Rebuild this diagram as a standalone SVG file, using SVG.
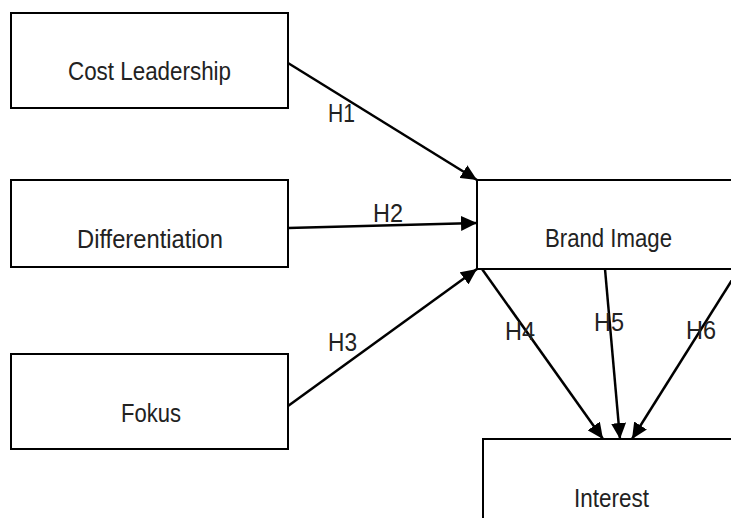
<svg xmlns="http://www.w3.org/2000/svg" width="731" height="518" viewBox="0 0 731 518">
<defs>
<marker id="ah" markerUnits="userSpaceOnUse" markerWidth="17" markerHeight="15" viewBox="0 0 17 15" refX="16" refY="7.5" orient="auto">
<path d="M0,0 L16,7.5 L0,15 Z" fill="#000"/>
</marker>
<style>
.box{fill:#fff;stroke:#000;stroke-width:2}
.lbl{font-family:"Liberation Sans",Arial,sans-serif;font-size:25px;fill:#222;text-anchor:middle}
.edge{stroke:#000;stroke-width:2.5;fill:none;marker-end:url(#ah)}
</style>
</defs>
<rect width="731" height="518" fill="#fff"/>
<g id="cost-leadership">
<rect class="box" x="11" y="13" width="277" height="95"/>
<text class="lbl" x="149.5" y="80" textLength="163" lengthAdjust="spacingAndGlyphs">Cost Leadership</text>
</g>
<g id="differentiation">
<rect class="box" x="11" y="180" width="277" height="87"/>
<text class="lbl" x="150" y="248" textLength="146" lengthAdjust="spacingAndGlyphs">Differentiation</text>
</g>
<g id="fokus">
<rect class="box" x="11" y="354" width="277" height="95"/>
<text class="lbl" x="151" y="422" textLength="60" lengthAdjust="spacingAndGlyphs">Fokus</text>
</g>
<g id="brand-image">
<rect class="box" x="477" y="180" width="290" height="89"/>
<text class="lbl" x="608.5" y="247" textLength="127" lengthAdjust="spacingAndGlyphs">Brand Image</text>
</g>
<g id="interest">
<rect class="box" x="483" y="439" width="290" height="100"/>
<text class="lbl" x="611.5" y="507" textLength="75" lengthAdjust="spacingAndGlyphs">Interest</text>
</g>
<g id="connectors">
<line class="edge" x1="288" y1="63" x2="477" y2="180"/>
<line class="edge" x1="288" y1="228" x2="477" y2="223"/>
<line class="edge" x1="288" y1="406" x2="477" y2="269"/>
<line class="edge" x1="482" y1="269" x2="603" y2="439"/>
<line class="edge" x1="605" y1="269" x2="620" y2="439"/>
<line class="edge" x1="739" y1="269" x2="632" y2="439"/>
<text class="lbl" x="341.5" y="122" textLength="27" lengthAdjust="spacingAndGlyphs">H1</text>
<text class="lbl" x="388" y="222" textLength="30" lengthAdjust="spacingAndGlyphs">H2</text>
<text class="lbl" x="342.5" y="351" textLength="29" lengthAdjust="spacingAndGlyphs">H3</text>
<text class="lbl" x="520" y="340" textLength="30" lengthAdjust="spacingAndGlyphs">H4</text>
<text class="lbl" x="609" y="331" textLength="30" lengthAdjust="spacingAndGlyphs">H5</text>
<text class="lbl" x="701" y="339" textLength="30" lengthAdjust="spacingAndGlyphs">H6</text>
</g>
</svg>
